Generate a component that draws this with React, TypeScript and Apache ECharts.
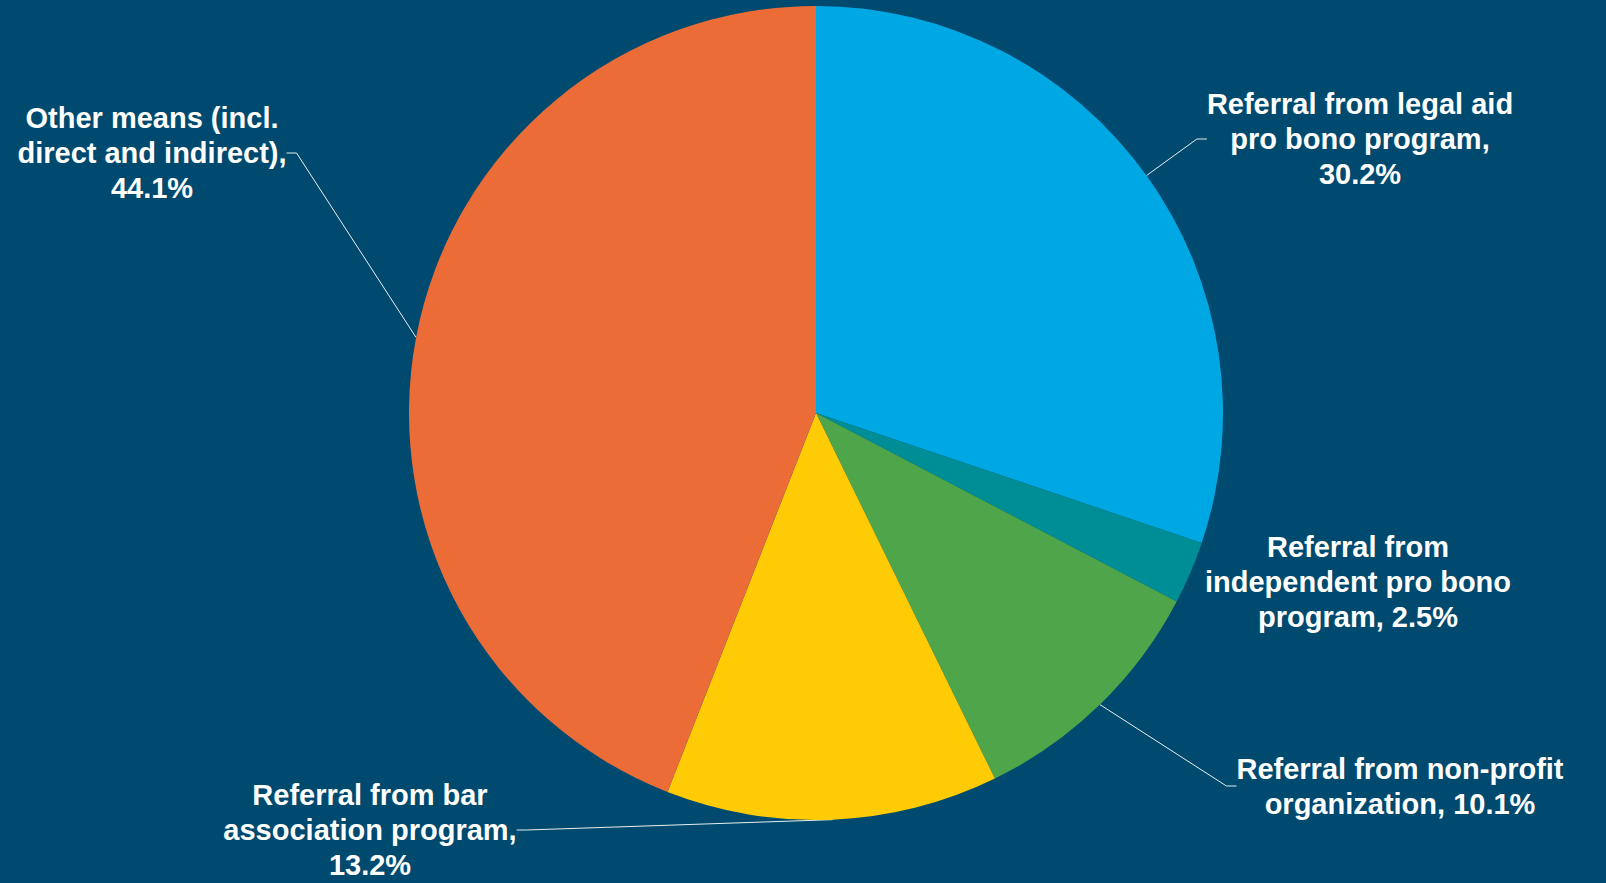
import React, { useEffect, useRef } from "react";
import * as echarts from "echarts";

// ---- data ----
const categories = [
  "Referral from legal aid pro bono program",
  "Referral from independent pro bono program",
  "Referral from non-profit organization",
  "Referral from bar association program",
  "Other means (incl. direct and indirect)",
];
const values = [30.2, 2.5, 10.1, 13.2, 44.1];
const labelFormats = [
  "Referral from legal aid\npro bono program,\n{v}",
  "Referral from\nindependent pro bono\nprogram, {v}",
  "Referral from non-profit\norganization, {v}",
  "Referral from bar\nassociation program,\n{v}",
  "Other means (incl.\ndirect and indirect),\n{v}",
];

// ---- styles / layout ----
const colors = ["#00A8E3", "#008E96", "#4FA54A", "#FFCB05", "#EC6C37"];
const BG = "#004A6F";
const labelPos: [number, number][] = [
  [1360, 139],
  [1358, 582],
  [1400, 786],
  [370, 830],
  [152, 153],
];
const showLine = [true, false, true, true, true];

export default function App() {
  const ref = useRef<HTMLDivElement>(null);
  useEffect(() => {
    document.body.style.margin = "0";
    document.body.style.overflow = "hidden";
    const chart = echarts.init(ref.current!, undefined, { renderer: "svg" });
    chart.setOption({
      animation: false,
      backgroundColor: BG,
      series: [
        {
          type: "pie",
          center: [816, 413],
          radius: 407,
          startAngle: 90,
          clockwise: true,
          avoidLabelOverlap: false,
          itemStyle: { borderWidth: 0 },
          label: {
            show: true,
            position: "outside",
            color: "#FFFFFF",
            fontFamily: "Liberation Sans, Arial, sans-serif",
            fontWeight: "bold",
            fontSize: 29,
            lineHeight: 35,
            align: "center",
            formatter: (p: any) =>
              labelFormats[p.dataIndex].replace("{v}", values[p.dataIndex].toFixed(1) + "%"),
          },
          labelLine: {
            show: true,
            length: 10,
            length2: 10,
            minTurnAngle: 0,
            lineStyle: { color: "#E8EEF2", width: 1 },
          },
          labelLayout: (params: any) => ({
            x: labelPos[params.dataIndex][0],
            y: labelPos[params.dataIndex][1],
            align: "center",
            verticalAlign: "middle",
          }),
          data: categories.map((name, i) => ({
            name,
            value: values[i],
            itemStyle: { color: colors[i] },
            labelLine: { show: showLine[i] },
          })),
        },
      ],
    });
    return () => chart.dispose();
  }, []);
  return <div ref={ref} style={{ width: 1606, height: 883 }} />;
}
